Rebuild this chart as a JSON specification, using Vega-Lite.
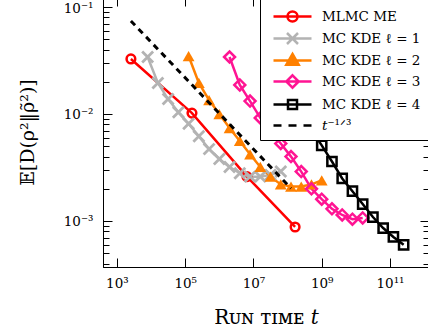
{
  "$schema": "https://vega.github.io/schema/vega-lite/v6.json",
  "width": 326,
  "height": 270,
  "autosize": "none",
  "padding": {"left": 103, "top": -3, "right": -1, "bottom": 68},
  "config": {"view": {"stroke": "black", "strokeWidth": 1}, "font": "DejaVu Serif"},
  "datasets": {
    "main": [
      {"s": "MLMC ME", "t": 2570, "d": 0.0327},
      {"s": "MLMC ME", "t": 1.58e5, "d": 0.0102},
      {"s": "MLMC ME", "t": 6.46e6, "d": 0.0026},
      {"s": "MLMC ME", "t": 1.66e8, "d": 0.00088},
      {"s": "MC KDE ℓ = 1", "t": 7943, "d": 0.0341},
      {"s": "MC KDE ℓ = 1", "t": 15849, "d": 0.0195},
      {"s": "MC KDE ℓ = 1", "t": 31623, "d": 0.0138},
      {"s": "MC KDE ℓ = 1", "t": 63096, "d": 0.0104},
      {"s": "MC KDE ℓ = 1", "t": 125893, "d": 0.0081},
      {"s": "MC KDE ℓ = 1", "t": 251189, "d": 0.0062},
      {"s": "MC KDE ℓ = 1", "t": 501187, "d": 0.0047},
      {"s": "MC KDE ℓ = 1", "t": 1e6, "d": 0.0038},
      {"s": "MC KDE ℓ = 1", "t": 1995262, "d": 0.0032},
      {"s": "MC KDE ℓ = 1", "t": 3981072, "d": 0.0028},
      {"s": "MC KDE ℓ = 1", "t": 7943282, "d": 0.0026},
      {"s": "MC KDE ℓ = 1", "t": 15848932, "d": 0.0026},
      {"s": "MC KDE ℓ = 1", "t": 31622777, "d": 0.0027},
      {"s": "MC KDE ℓ = 1", "t": 63095734, "d": 0.0029},
      {"s": "MC KDE ℓ = 2", "t": 125893, "d": 0.0348},
      {"s": "MC KDE ℓ = 2", "t": 251189, "d": 0.0195},
      {"s": "MC KDE ℓ = 2", "t": 501187, "d": 0.0135},
      {"s": "MC KDE ℓ = 2", "t": 1e6, "d": 0.0100},
      {"s": "MC KDE ℓ = 2", "t": 1995262, "d": 0.0074},
      {"s": "MC KDE ℓ = 2", "t": 3981072, "d": 0.0056},
      {"s": "MC KDE ℓ = 2", "t": 7943282, "d": 0.0042},
      {"s": "MC KDE ℓ = 2", "t": 15848932, "d": 0.0032},
      {"s": "MC KDE ℓ = 2", "t": 31622777, "d": 0.0026},
      {"s": "MC KDE ℓ = 2", "t": 63095734, "d": 0.0022},
      {"s": "MC KDE ℓ = 2", "t": 125892541, "d": 0.0021},
      {"s": "MC KDE ℓ = 2", "t": 251188643, "d": 0.0021},
      {"s": "MC KDE ℓ = 2", "t": 501187234, "d": 0.0022},
      {"s": "MC KDE ℓ = 2", "t": 1e9, "d": 0.0024},
      {"s": "MC KDE ℓ = 3", "t": 1995262, "d": 0.0341},
      {"s": "MC KDE ℓ = 3", "t": 3981072, "d": 0.0187},
      {"s": "MC KDE ℓ = 3", "t": 7943282, "d": 0.0132},
      {"s": "MC KDE ℓ = 3", "t": 15848932, "d": 0.0092},
      {"s": "MC KDE ℓ = 3", "t": 31622777, "d": 0.0069},
      {"s": "MC KDE ℓ = 3", "t": 63095734, "d": 0.0053},
      {"s": "MC KDE ℓ = 3", "t": 125892541, "d": 0.0040},
      {"s": "MC KDE ℓ = 3", "t": 251188643, "d": 0.0029},
      {"s": "MC KDE ℓ = 3", "t": 501187234, "d": 0.0020},
      {"s": "MC KDE ℓ = 3", "t": 1e9, "d": 0.0016},
      {"s": "MC KDE ℓ = 3", "t": 1995262315, "d": 0.0013},
      {"s": "MC KDE ℓ = 3", "t": 3981071706, "d": 0.00114},
      {"s": "MC KDE ℓ = 3", "t": 7943282347, "d": 0.00104},
      {"s": "MC KDE ℓ = 3", "t": 15848931925, "d": 0.00107},
      {"s": "MC KDE ℓ = 4", "t": 31622777, "d": 0.0341},
      {"s": "MC KDE ℓ = 4", "t": 63095734, "d": 0.0191},
      {"s": "MC KDE ℓ = 4", "t": 125892541, "d": 0.0135},
      {"s": "MC KDE ℓ = 4", "t": 251188643, "d": 0.0098},
      {"s": "MC KDE ℓ = 4", "t": 501187234, "d": 0.0071},
      {"s": "MC KDE ℓ = 4", "t": 1e9, "d": 0.0051},
      {"s": "MC KDE ℓ = 4", "t": 1995262315, "d": 0.0036},
      {"s": "MC KDE ℓ = 4", "t": 3981071706, "d": 0.0025},
      {"s": "MC KDE ℓ = 4", "t": 7943282347, "d": 0.0019},
      {"s": "MC KDE ℓ = 4", "t": 15848931925, "d": 0.00144},
      {"s": "MC KDE ℓ = 4", "t": 31622776602, "d": 0.00109},
      {"s": "MC KDE ℓ = 4", "t": 63095734448, "d": 0.00086},
      {"s": "MC KDE ℓ = 4", "t": 125892541179, "d": 0.00071},
      {"s": "MC KDE ℓ = 4", "t": 251188643151, "d": 0.00060}
    ],
    "ref": [
      {"t": 2570, "d": 0.074},
      {"t": 1.26e8, "d": 0.00202}
    ]
  },
  "data": {"name": "main"},
  "encoding": {
    "x": {"field": "t", "type": "quantitative", "scale": {"type": "log", "domain": [391, 1.39e12], "nice": false}, "axis": null},
    "y": {"field": "d", "type": "quantitative", "scale": {"type": "log", "domain": [0.000372, 0.124], "nice": false}, "axis": null}
  },
  "layer": [
    {
      "mark": {"type": "line", "strokeWidth": 2.5},
      "encoding": {
        "x": {"field": "t", "type": "quantitative", "scale": {"type": "log", "domain": [391, 1.39e12], "nice": false},
          "axis": {"orient": "bottom", "values": [1e3, 1e5, 1e7, 1e9, 1e11], "grid": false,
            "labelExpr": "'10' + ['⁰','¹','²','³','⁴','⁵','⁶','⁷','⁸','⁹','¹⁰','¹¹','¹²'][round(log(datum.value)/LN10)]",
            "tickSize": -9, "tickColor": "black", "domainColor": "black", "labelPadding": 18,
            "labelFont": "DejaVu Serif", "labelFontSize": 13.5, "labelColor": "black", "labelFlush": false, "labelOverlap": false,
            "title": "Rᴜɴ ᴛɪᴍᴇ 𝑡", "titleFont": "DejaVu Serif", "titleFontSize": 20, "titleFontWeight": "normal", "titleColor": "black", "titlePadding": 18}},
        "y": {"field": "d", "type": "quantitative", "scale": {"type": "log", "domain": [0.000372, 0.124], "nice": false},
          "axis": {"orient": "left", "grid": false,
            "values": [0.1, 0.09, 0.08, 0.07, 0.06, 0.05, 0.04, 0.03, 0.02, 0.01, 0.009, 0.008, 0.007, 0.006, 0.005, 0.004, 0.003, 0.002, 0.001, 0.0009, 0.0008, 0.0007, 0.0006, 0.0005, 0.0004],
            "labelExpr": "abs(log(datum.value)/LN10 - round(log(datum.value)/LN10)) < 0.001 ? '10' + ['','⁻¹','⁻²','⁻³','⁻⁴'][-round(log(datum.value)/LN10)] : ''",
            "tickSize": {"condition": {"test": "abs(log(datum.value)/LN10 - round(log(datum.value)/LN10)) < 0.001", "value": -9}, "value": -6},
            "labelOffset": {"condition": {"test": "datum.value > 0.05", "value": 2}, "value": 0},
            "tickColor": "black", "domainColor": "black", "labelPadding": 19,
            "labelFont": "DejaVu Serif", "labelFontSize": 13.5, "labelColor": "black", "labelFlush": false, "labelOverlap": false,
            "title": "𝔼[D(ρ²‖ρ̃²)]", "titleFont": "DejaVu Serif", "titleFontSize": 19, "titleFontWeight": "normal", "titleColor": "black", "titlePadding": 26}},
        "stroke": {"field": "s", "type": "nominal", "legend": null,
          "scale": {"domain": ["MLMC ME", "MC KDE ℓ = 1", "MC KDE ℓ = 2", "MC KDE ℓ = 3", "MC KDE ℓ = 4"],
                    "range": ["#ff0000", "#b3b3b3", "#ff8000", "#ff1493", "#000000"]}}
      }
    },
    {
      "transform": [{"filter": "datum.s == 'MLMC ME'"}],
      "mark": {"type": "point", "shape": "circle", "filled": false, "color": "#ff0000", "size": 75, "strokeWidth": 2.5, "opacity": 1}
    },
    {
      "transform": [{"filter": "datum.s == 'MC KDE ℓ = 1'"}],
      "mark": {"type": "point", "shape": "M-1,-1L1,1M-1,1L1,-1", "filled": false, "color": "#b3b3b3", "size": 120, "strokeWidth": 2.8, "opacity": 1}
    },
    {
      "transform": [{"filter": "datum.s == 'MC KDE ℓ = 2'"}],
      "mark": {"type": "point", "shape": "triangle-up", "filled": true, "color": "#ff8000", "size": 140, "opacity": 1}
    },
    {
      "transform": [{"filter": "datum.s == 'MC KDE ℓ = 3'"}],
      "mark": {"type": "point", "shape": "diamond", "filled": false, "color": "#ff1493", "size": 120, "strokeWidth": 2.5, "opacity": 1}
    },
    {
      "transform": [{"filter": "datum.s == 'MC KDE ℓ = 4'"}],
      "mark": {"type": "point", "shape": "square", "filled": false, "color": "#000000", "size": 85, "strokeWidth": 2.5, "opacity": 1},
      "encoding": {
        "x": {"field": "t", "type": "quantitative", "scale": {"type": "log", "domain": [391, 1.39e12], "nice": false},
          "axis": {"orient": "top", "values": [1e3, 1e5, 1e7, 1e9, 1e11], "grid": false, "labels": false, "title": null,
            "tickSize": -9, "tickColor": "black", "domainColor": "black"}},
        "y": {"field": "d", "type": "quantitative", "scale": {"type": "log", "domain": [0.000372, 0.124], "nice": false},
          "axis": {"orient": "right", "grid": false, "labels": false, "title": null,
            "values": [0.1, 0.09, 0.08, 0.07, 0.06, 0.05, 0.04, 0.03, 0.02, 0.01, 0.009, 0.008, 0.007, 0.006, 0.005, 0.004, 0.003, 0.002, 0.001, 0.0009, 0.0008, 0.0007, 0.0006, 0.0005, 0.0004],
            "tickSize": {"condition": {"test": "abs(log(datum.value)/LN10 - round(log(datum.value)/LN10)) < 0.001", "value": -9}, "value": -6},
            "tickColor": "black", "domainColor": "black"}}
      }
    },
    {
      "data": {"name": "ref"},
      "mark": {"type": "line", "strokeWidth": 3, "strokeDash": [6, 5], "color": "black"},
      "encoding": {}
    },
    {
      "transform": [{"filter": "datum.d < 0"}],
      "mark": {"type": "point", "filled": false, "strokeWidth": 2.5, "opacity": 1},
      "encoding": {
        "color": {"field": "s", "type": "nominal",
          "scale": {"domain": ["MLMC ME", "MC KDE ℓ = 1", "MC KDE ℓ = 2", "MC KDE ℓ = 3", "MC KDE ℓ = 4", "𝑡⁻¹ᐟ³"],
                    "range": ["#ff0000", "#b3b3b3", "#ff8000", "#ff1493", "#000000", "#000000"]},
          "legend": {"title": null, "orient": "top-right", "offset": 0, "padding": 8, "fillColor": "white", "strokeColor": "black",
            "symbolSize": 400, "symbolStrokeWidth": 2.5, "symbolOffset": 13, "labelOffset": 18, "symbolOpacity": 1,
            "labelFont": "DejaVu Serif", "labelFontSize": 13.5, "labelColor": "black", "rowPadding": -2, "labelLimit": 0}},
        "shape": {"field": "s", "type": "nominal",
          "scale": {"domain": ["MLMC ME", "MC KDE ℓ = 1", "MC KDE ℓ = 2", "MC KDE ℓ = 3", "MC KDE ℓ = 4", "𝑡⁻¹ᐟ³"],
                    "range": [
                      "M-1.9,0H1.9M-0.5,0A0.5,0.5,0,1,0,0.5,0A0.5,0.5,0,1,0,-0.5,0",
                      "M-1.9,0H1.9M-0.55,-0.55L0.55,0.55M-0.55,0.55L0.55,-0.55",
                      "M-1.9,0H1.9M0,-0.65L0.62,0.42L-0.62,0.42ZM0,-0.32L0.3,0.2L-0.3,0.2ZM0,-0.05L0.06,0.05L-0.06,0.05Z",
                      "M-1.9,0H1.9M0,-0.62L0.62,0L0,0.62L-0.62,0Z",
                      "M-1.9,0H1.9M-0.45,-0.45H0.45V0.45H-0.45Z",
                      "M-1.9,0H-1.1M-0.4,0H0.4M1.1,0H1.9"
                    ]},
          "legend": {"title": null, "orient": "top-right", "offset": 0, "padding": 8, "fillColor": "white", "strokeColor": "black",
            "symbolSize": 400, "symbolStrokeWidth": 2.5, "symbolOffset": 13, "labelOffset": 18, "symbolOpacity": 1,
            "labelFont": "DejaVu Serif", "labelFontSize": 13.5, "labelColor": "black", "rowPadding": -2, "labelLimit": 0}}
      }
    }
  ],
  "resolve": {"axis": {"x": "independent", "y": "independent"}}
}
